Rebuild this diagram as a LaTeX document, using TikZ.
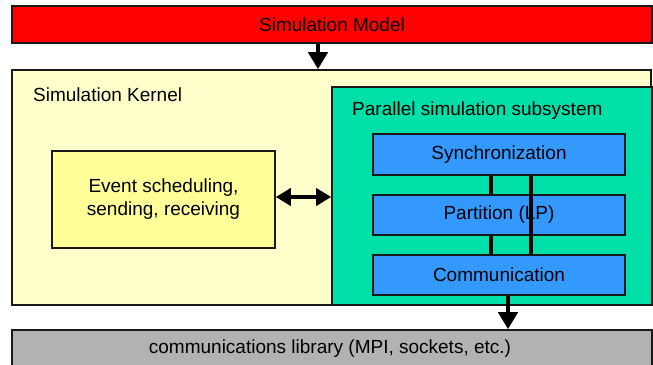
\documentclass[tikz,border=0pt]{standalone}
\usepackage{fontspec}
\setmainfont{Liberation Sans}
\usetikzlibrary{arrows.meta}
\definecolor{modelred}{RGB}{255,0,0}
\definecolor{kernelbg}{RGB}{255,255,204}
\definecolor{subgreen}{RGB}{0,224,168}
\definecolor{eventbg}{RGB}{255,255,153}
\definecolor{blockblue}{RGB}{51,153,255}
\definecolor{libgray}{RGB}{178,178,178}
\definecolor{edge}{RGB}{25,25,25}
\tikzset{
  box/.style={draw=edge, line width=1.6pt, rectangle, inner sep=0pt},
  txt/.style={font=\fontsize{19}{23}\selectfont},
  lbl/.style={inner sep=0pt, txt},
  conn/.style={line width=4pt, draw=black},
  arr/.style={line width=4pt, draw=black, -{Triangle[width=19pt,length=17pt]}},
  darr/.style={line width=4pt, draw=black, {Triangle[width=17pt,length=15pt]}-{Triangle[width=17pt,length=15pt]}},
}
\begin{document}
\begin{tikzpicture}[x=1pt,y=-1pt]
\useasboundingbox (0,0) rectangle (653,364);
% boxes
\node[box, fill=modelred, minimum width=640pt, minimum height=37pt] (model) at (332,24.5) {};
\node[lbl] (mtext) at (332,25) {Simulation Model};
\node[box, fill=kernelbg, minimum width=639pt, minimum height=235pt] (kernel) at (331.5,187.5) {};
\node[lbl, anchor=west] (ktext) at (33,95) {Simulation Kernel};
\node[box, fill=subgreen, minimum width=320pt, minimum height=218pt] (green) at (492,196) {};
\node[lbl, anchor=west] (gtext) at (352,111) {Parallel simulation subsystem};
\node[box, fill=eventbg, minimum width=223pt, minimum height=97pt, align=center, txt] (event) at (163.5,199.5) {Event scheduling,\\sending, receiving};
\node[box, fill=blockblue, minimum width=252pt, minimum height=41pt, txt] (sync) at (499,154.5) {Synchronization};
\node[box, fill=blockblue, minimum width=252pt, minimum height=40pt, txt] (part) at (499,215) {Partition (LP)};
\node[box, fill=blockblue, minimum width=252pt, minimum height=40pt, txt] (comm) at (499,275) {Communication};
\node[box, fill=libgray, minimum width=640pt, minimum height=36pt] (lib) at (332,348) {};
\node[lbl] (ltext) at (330,349) {communications library (MPI, sockets, etc.)};
% connectors
\coordinate (c0) at (318,0);
\coordinate (c1) at (491,0);
\coordinate (c2) at (531,0);
\coordinate (c3) at (508,0);
\draw[arr] (c0 |- model.south) -- (c0 |- kernel.north);
\draw[darr] (event.east |- 0,197) -- (green.west |- 0,197);
\draw[conn] (c1 |- sync.south) -- (c1 |- part.north);
\draw[conn] (c1 |- part.south) -- (c1 |- comm.north);
\draw[conn] (c2 |- sync.south) -- (c2 |- comm.north);
\draw[arr] (c3 |- comm.south) -- (c3 |- lib.north);
\end{tikzpicture}
\end{document}
